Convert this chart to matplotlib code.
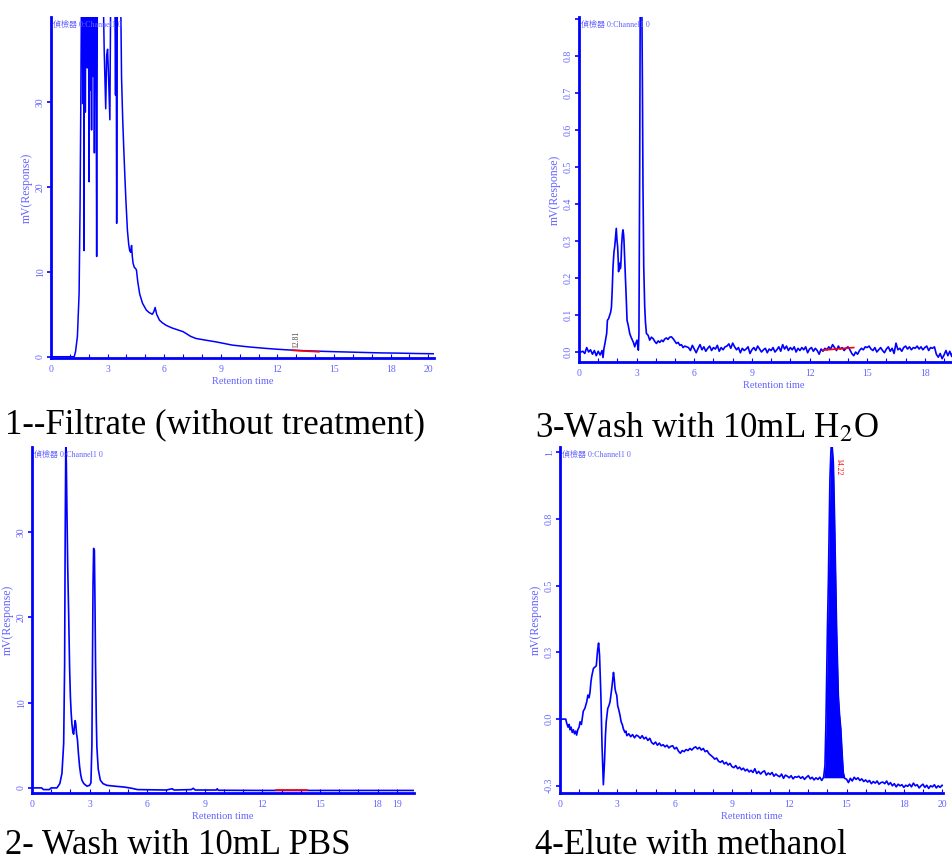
import matplotlib
matplotlib.use("Agg")
import matplotlib.pyplot as plt
import numpy as np

plt.rcParams['mathtext.fontset'] = 'stix'

BLUE = '#0000ff'
TICKC = '#6464ff'
SERIF = ['Liberation Serif', 'DejaVu Serif']
CJK = ['Liberation Serif', 'Noto Sans CJK TC', 'DejaVu Sans']

# ---------------- data (retention time [min], response [mV]) ----------------
# Panel 1: Filtrate (values above 40 are off-scale / clipped)
filtrate = [
    (0, 0), (1.23, 0), (1.3, 0.6), (1.4, 2.4), (1.49, 7.5), (1.54, 17.6), (1.58, 30),
    (1.62, 45), (1.66, 45), (1.68, 29.8), (1.70, 45), (1.73, 45), (1.75, 12.5), (1.77, 45),
    (1.80, 45), (1.82, 28.8), (1.85, 45), (1.88, 45), (1.92, 34), (1.95, 45), (1.98, 45),
    (2.02, 20.6), (2.05, 45), (2.08, 31.4), (2.12, 45), (2.15, 26.7), (2.18, 45), (2.22, 33),
    (2.26, 45), (2.30, 24), (2.34, 45), (2.38, 45), (2.42, 11.8), (2.46, 45), (2.6, 45),
    (2.75, 45), (2.82, 36), (2.90, 29.2), (2.95, 35.5), (3.0, 36.2), (3.05, 33), (3.12, 27.9),
    (3.17, 45), (3.22, 45), (3.27, 45), (3.32, 45), (3.38, 45), (3.42, 30.8), (3.45, 45),
    (3.48, 15.7), (3.52, 45), (3.56, 45), (3.62, 45), (3.68, 45), (3.74, 32.8), (3.80, 28),
    (3.86, 24.3), (3.92, 21), (3.97, 18.4), (4.05, 14.9), (4.12, 13.2), (4.17, 12.5),
    (4.22, 12.3), (4.27, 13.1), (4.31, 11.8), (4.35, 11.0), (4.42, 10.5), (4.48, 10.4),
    (4.53, 10.2), (4.6, 8.8), (4.7, 7.4), (4.85, 6.3), (5.05, 5.5), (5.2, 5.2), (5.37, 5.0),
    (5.45, 5.3), (5.52, 5.8), (5.6, 5.0), (5.75, 4.3), (5.9, 4.0), (6.1, 3.7), (6.4, 3.4),
    (6.8, 3.1), (7.0, 2.95), (7.15, 2.75), (7.4, 2.4), (7.68, 2.15), (8.2, 1.95), (8.74, 1.75),
    (9.2, 1.55), (9.6, 1.37), (10.5, 1.15), (11.4, 0.98), (12.0, 0.88), (12.6, 0.8),
    (13.5, 0.7), (14.9, 0.6), (15.8, 0.55), (16.6, 0.5), (17.5, 0.45), (18.5, 0.42),
    (19.3, 0.38), (20.3, 0.35),
]
filtrate_base = [(12.8, 0.75), (14.2, 0.58)]
filtrate_peak_label = "12.81"

# Panel 2: Wash with 10 mL PBS
pbs = [
    (0, 0), (0.5, 0), (0.6, -0.2), (0.9, -0.2), (1.0, 0.0), (1.3, 0.0), (1.45, 0.5),
    (1.56, 1.7), (1.65, 5.2), (1.70, 14.6), (1.73, 30), (1.76, 40.5), (1.79, 38), (1.82, 32.6),
    (1.86, 26), (1.91, 20.4), (1.96, 14), (2.0, 10.7), (2.04, 8.8), (2.08, 7.5), (2.13, 6.5),
    (2.17, 6.3), (2.21, 7.2), (2.25, 7.9), (2.28, 7.5), (2.32, 6.4), (2.37, 5.6), (2.42, 4.0),
    (2.48, 2.5), (2.54, 1.5), (2.6, 0.9), (2.7, 0.5), (2.86, 0.2), (3.0, 0.3), (3.07, 0.6),
    (3.12, 5), (3.15, 14.6), (3.18, 24), (3.21, 28.1), (3.25, 27.9), (3.28, 22), (3.31, 14.6),
    (3.35, 8), (3.38, 4.8), (3.45, 2.2), (3.56, 0.9), (3.7, 0.5), (3.9, 0.3), (4.3, 0.2),
    (4.8, 0.1), (5.2, -0.05), (5.5, -0.2), (7.0, -0.25), (7.3, -0.1), (7.4, -0.25),
    (8.3, -0.2), (8.4, -0.05), (8.5, -0.25), (9.6, -0.25), (9.65, -0.1), (9.7, -0.28),
    (12.0, -0.3), (20.0, -0.3),
]
pbs_base = [(12.7, -0.3), (14.3, -0.3)]

# Panel 3: Wash with 10 mL H2O (shaped part, then sampled noisy baseline)
water = [
    (0, 0.0), (0.1, 0.0), (0.2, 0.002), (0.3, -0.004), (0.4, 0.012), (0.5, 0.0), (0.6, 0.006),
    (0.7, -0.006), (0.8, 0.004), (0.9, -0.01), (1.0, 0.002), (1.1, -0.008), (1.2, 0.004),
    (1.25, -0.015), (1.3, 0.01), (1.35, 0.023), (1.44, 0.05), (1.48, 0.086), (1.54, 0.09),
    (1.6, 0.1), (1.65, 0.108), (1.69, 0.122), (1.73, 0.17), (1.77, 0.23), (1.82, 0.27),
    (1.86, 0.285), (1.9, 0.31), (1.94, 0.334), (1.98, 0.3), (2.01, 0.285), (2.04, 0.25),
    (2.06, 0.217), (2.09, 0.235), (2.12, 0.24), (2.15, 0.225), (2.17, 0.23), (2.2, 0.26),
    (2.22, 0.29), (2.26, 0.32), (2.29, 0.33), (2.32, 0.318), (2.34, 0.302), (2.38, 0.25),
    (2.43, 0.186), (2.47, 0.13), (2.5, 0.086), (2.57, 0.07), (2.64, 0.05), (2.71, 0.04),
    (2.78, 0.032), (2.84, 0.025), (2.9, 0.014), (2.95, 0.023), (3.02, 0.032), (3.06, 0.015),
    (3.09, 0.005), (3.12, 0.05), (3.16, 0.5), (3.19, 1.0), (3.23, 1.0), (3.27, 0.95),
    (3.3, 0.726), (3.33, 0.45), (3.37, 0.23), (3.42, 0.122), (3.46, 0.08), (3.51, 0.05),
    (3.6, 0.045), (3.68, 0.032), (3.77, 0.04), (3.86, 0.036), (3.95, 0.028), (4.03, 0.023),
    (4.12, 0.03), (4.2, 0.026), (4.3, 0.032), (4.38, 0.028), (4.46, 0.035), (4.55, 0.038),
    (4.63, 0.034), (4.72, 0.04), (4.81, 0.041), (4.9, 0.036), (4.98, 0.03), (5.07, 0.023),
    (5.16, 0.026), (5.25, 0.018), (5.33, 0.02), (5.42, 0.012), (5.5, 0.016), (5.6, 0.014),
]
water_noise_start, water_noise_step = 5.7, 0.1
water_noise = [
    0.012, 0.004, 0.018, 0.008, -0.002, 0.01, 0.02, 0.006, 0.014, 0.002,
    0.01, 0.016, 0.004, 0.012, 0.008, 0.018, 0.002, 0.012, 0.006, 0.014,
    0.016, 0.022, 0.01, 0.024, 0.014, 0.006, 0.012, -0.002, 0.01, 0.004,
    0.008, 0.014, -0.004, 0.006, 0.012, 0.004, 0.016, 0.008, 0.0, 0.006,
    0.01, -0.002, 0.008, 0.004, 0.012, 0.0, 0.006, 0.014, 0.002, 0.02,
    0.008, 0.016, 0.004, 0.012, 0.006, 0.014, 0.0, 0.01, 0.004, 0.012,
    0.006, 0.014, -0.002, 0.008, 0.012, 0.002, 0.01, 0.004, -0.006, 0.008,
    0.002, 0.01, 0.006, 0.014, 0.008, 0.02, 0.012, 0.004, 0.016, 0.008,
    0.012, 0.004, 0.01, 0.014, 0.006, -0.004, -0.01, 0.0, -0.006, 0.004,
    0.01, 0.006, 0.014, 0.012, 0.016, 0.008, 0.004, 0.012, 0.0, 0.006,
    0.012, 0.004, -0.002, 0.008, 0.014, 0.002, 0.01, -0.004, 0.024, 0.006,
    0.01, 0.002, 0.012, 0.016, 0.008, 0.014, 0.006, 0.012, 0.01, 0.016,
    0.008, 0.014, 0.006, 0.012, 0.016, 0.004, 0.012, 0.01, 0.014, -0.006,
    -0.014, -0.004, -0.018, -0.008, 0.004, -0.01, 0.002, -0.012, 0.006, -0.002,
    0.008, 0.004, 0.012, 0.002, -0.004, 0.006, 0.0,
]
water_base = [(12.7, 0.005), (14.3, 0.012)]

# Panel 4: Elute with methanol
meoh_front = [
    (0, 0.0), (0.3, 0.0), (0.35, -0.015), (0.42, -0.03), (0.48, -0.02), (0.52, -0.04),
    (0.58, -0.03), (0.64, -0.05), (0.7, -0.04), (0.76, -0.055), (0.82, -0.045), (0.87, -0.06),
    (0.93, -0.04), (1.0, -0.03), (1.05, -0.01), (1.12, -0.02), (1.22, 0.03), (1.3, 0.04),
    (1.4, 0.065), (1.46, 0.09), (1.52, 0.08), (1.57, 0.1), (1.62, 0.14), (1.66, 0.16),
    (1.75, 0.19), (1.83, 0.195), (1.9, 0.2), (1.97, 0.26), (2.02, 0.285), (2.07, 0.24),
    (2.14, 0.09), (2.2, -0.1), (2.27, -0.246), (2.33, -0.16), (2.38, -0.06), (2.42, -0.01),
    (2.5, 0.04), (2.56, 0.05), (2.62, 0.065), (2.71, 0.115), (2.76, 0.15), (2.8, 0.175),
    (2.84, 0.15), (2.88, 0.115), (2.92, 0.1), (2.97, 0.09), (3.02, 0.05), (3.06, 0.04),
    (3.14, 0.015), (3.2, -0.01), (3.26, -0.02), (3.32, -0.037), (3.4, -0.05), (3.45, -0.045),
]
meoh_mid_start, meoh_mid_step = 3.5, 0.1
meoh_mid = [
    -0.062, -0.055, -0.066, -0.058, -0.07, -0.06, -0.064, -0.072, -0.062, -0.074,
    -0.068, -0.08, -0.072, -0.088, -0.094, -0.086, -0.098, -0.09, -0.1, -0.096,
    -0.104, -0.098, -0.108, -0.102, -0.1, -0.112, -0.106, -0.12, -0.128, -0.118,
    -0.122, -0.114, -0.118, -0.11, -0.116, -0.108, -0.104, -0.112, -0.106, -0.116,
    -0.11, -0.122, -0.118, -0.13, -0.136, -0.142, -0.15, -0.146, -0.158, -0.162,
    -0.156, -0.168, -0.162, -0.172, -0.166, -0.178, -0.182, -0.174, -0.186, -0.18,
    -0.19, -0.184, -0.194, -0.188, -0.198, -0.192, -0.2, -0.186, -0.204, -0.196,
    -0.206, -0.198, -0.194, -0.21, -0.202, -0.208, -0.2, -0.214, -0.206, -0.212,
    -0.216, -0.206, -0.222, -0.21, -0.214, -0.22, -0.212, -0.224, -0.216, -0.218,
    -0.214, -0.222, -0.216, -0.226, -0.218, -0.212, -0.224, -0.218, -0.228, -0.22,
    -0.226, -0.218, -0.23, -0.218,
]
meoh_peak = [
    (13.8, -0.218), (13.87, -0.175), (13.92, -0.02), (13.96, 0.16), (14.0, 0.34),
    (14.05, 0.52), (14.09, 0.71), (14.13, 0.9), (14.18, 1.0), (14.22, 1.05), (14.27, 1.0),
    (14.31, 0.96), (14.36, 0.8), (14.4, 0.65), (14.44, 0.5), (14.48, 0.34), (14.53, 0.2),
    (14.57, 0.09), (14.63, 0.02), (14.7, -0.037), (14.77, -0.13), (14.83, -0.2),
    (14.9, -0.222),
]
meoh_peak_base = -0.22
meoh_tail_start, meoh_tail_step = 15.0, 0.1
meoh_tail = [
    -0.225, -0.238, -0.222, -0.232, -0.218, -0.226, -0.22, -0.23, -0.224, -0.234,
    -0.228, -0.236, -0.23, -0.242, -0.234, -0.24, -0.232, -0.244, -0.238, -0.236,
    -0.242, -0.232, -0.246, -0.238, -0.25, -0.242, -0.254, -0.244, -0.25, -0.246,
    -0.256, -0.248, -0.252, -0.244, -0.254, -0.24, -0.25, -0.246, -0.258, -0.25,
    -0.244, -0.256, -0.248, -0.26, -0.25, -0.254, -0.246, -0.258, -0.25, -0.256,
    -0.248, -0.25,
]
meoh_peak_label = "14.22"

titles = ["1--Filtrate (without treatment)", "2- Wash with 10mL PBS",
          "3-Wash with 10mL H$_{2}$O", "4-Elute with methanol"]
detector_text = "偵檢器 0:Channel1 0"


def split(pairs):
    return [p[0] for p in pairs], [p[1] for p in pairs]


def sampled(start, step, vals):
    return [start + step * i for i in range(len(vals))], list(vals)


# ---------------- figure ----------------
W, H = 953, 864
fig = plt.figure(figsize=(W / 100, H / 100), dpi=100)


def px_axes(left, top, right, bottom):
    return fig.add_axes([left / W, 1 - bottom / H, (right - left) / W, (bottom - top) / H])


def style(ax, xlim, ylim, xticks, xlabels, yticks, ylabels):
    ax.set_xlim(*xlim)
    ax.set_ylim(*ylim)
    for s in ('top', 'right'):
        ax.spines[s].set_visible(False)
    for s in ('left', 'bottom'):
        ax.spines[s].set_color(BLUE)
        ax.spines[s].set_linewidth(2.0)
    ax.set_xticks(xticks)
    ax.set_xticklabels(xlabels)
    ax.set_xticks(np.arange(0, int(xlim[1]) + 1), minor=True)
    ax.set_yticks(yticks)
    ax.set_yticklabels(ylabels, rotation=90, va='center')
    ax.tick_params(axis='x', which='both', direction='in', length=3, width=0.8,
                   color=BLUE, pad=5, labelsize=7, labelcolor=TICKC)
    ax.tick_params(axis='y', which='both', direction='out', length=3, width=1.2,
                   color=BLUE, pad=1.5, labelsize=7, labelcolor=TICKC)
    for lab in ax.get_xticklabels() + ax.get_yticklabels():
        lab.set_fontfamily(SERIF)
    ax.set_xlabel("Retention time", fontsize=7.5, color=TICKC, family=SERIF, labelpad=2)
    ax.set_ylabel("mV(Response)", fontsize=8.5, color=TICKC, family=SERIF, labelpad=2)
    ax.text(0.006, 0.99, detector_text, transform=ax.transAxes, fontsize=5.8,
            color=TICKC, family=CJK, va='top', ha='left')
    ax.set_facecolor('none')


# Panel 1 (top-left)
ax1 = px_axes(51, 17, 434, 358)
t, v = split(filtrate)
ax1.plot(t, v, color=BLUE, lw=1.1)
t, v = split(filtrate_base)
ax1.plot(t, v, color='red', lw=1.2)
ax1.text(13.0, 1.0, filtrate_peak_label, rotation=90, fontsize=5.5, color='#444444',
         family=SERIF, ha='center', va='bottom')
style(ax1, (0, 20.3), (-0.15, 40), [0, 3, 6, 9, 12, 15, 18, 20],
      ['0', '3', '6', '9', '12', '15', '18', '20'], [0, 10, 20, 30], ['0', '10', '20', '30'])

# Panel 2 (top-right) - Wash with H2O
ax2 = px_axes(579, 17, 969, 362)
t, v = split(water)
tn, vn = sampled(water_noise_start, water_noise_step, water_noise)
ax2.plot(t + tn, v + vn, color=BLUE, lw=1.2)
t, v = split(water_base)
ax2.plot(t, v, color='red', lw=1.2)
style(ax2, (0, 20.3), (-0.027, 0.905), [0, 3, 6, 9, 12, 15, 18, 20],
      ['0', '3', '6', '9', '12', '15', '18', ''],
      [0.0, 0.1, 0.2, 0.3, 0.4, 0.5, 0.6, 0.7, 0.8, 0.9],
      ['0.0', '0.1', '0.2', '0.3', '0.4', '0.5', '0.6', '0.7', '0.8', ''])

# Panel 3 (bottom-left) - Wash with PBS
ax3 = px_axes(32, 447, 414, 793)
t, v = split(pbs)
ax3.plot(t, v, color=BLUE, lw=1.2)
t, v = split(pbs_base)
ax3.plot(t, v, color='red', lw=1.2)
style(ax3, (0, 19.9), (-0.6, 40), [0, 3, 6, 9, 12, 15, 18, 19],
      ['0', '3', '6', '9', '12', '15', '18', '19'], [0, 10, 20, 30], ['0', '10', '20', '30'])

# Panel 4 (bottom-right) - Elute with methanol
ax4 = px_axes(560, 447, 943, 793)
t, v = split(meoh_front)
tm, vm = sampled(meoh_mid_start, meoh_mid_step, meoh_mid)
tp, vp = split(meoh_peak)
tt, vt = sampled(meoh_tail_start, meoh_tail_step, meoh_tail)
ax4.plot(t + tm + tp + tt, v + vm + vp + vt, color=BLUE, lw=1.2)
ax4.fill_between(tp, vp, meoh_peak_base, color=BLUE, lw=0)
ax4.text(14.55, 0.98, meoh_peak_label, rotation=270, fontsize=5.5, color='red',
         family=SERIF, ha='center', va='top')
style(ax4, (0, 20.05), (-0.277, 1.02), [0, 3, 6, 9, 12, 15, 18, 20],
      ['0', '3', '6', '9', '12', '15', '18', '20'],
      [-0.25, 0.0, 0.25, 0.5, 0.75, 1.0], ['-0.3', '0.0', '0.3', '0.5', '0.8', '1.'])

# Titles
tkw = dict(fontsize=25, family=SERIF, color='black', va='center', ha='left')
fig.text(5 / W, 1 - 425 / H, titles[0], **tkw)
fig.text(5 / W, 1 - 846 / H, titles[1], **tkw)
fig.text(535 / W, 1 - 428 / H, titles[2], **tkw)
fig.text(535 / W, 1 - 846 / H, titles[3], **tkw)

fig.savefig("out.png", dpi=100, facecolor='white')
